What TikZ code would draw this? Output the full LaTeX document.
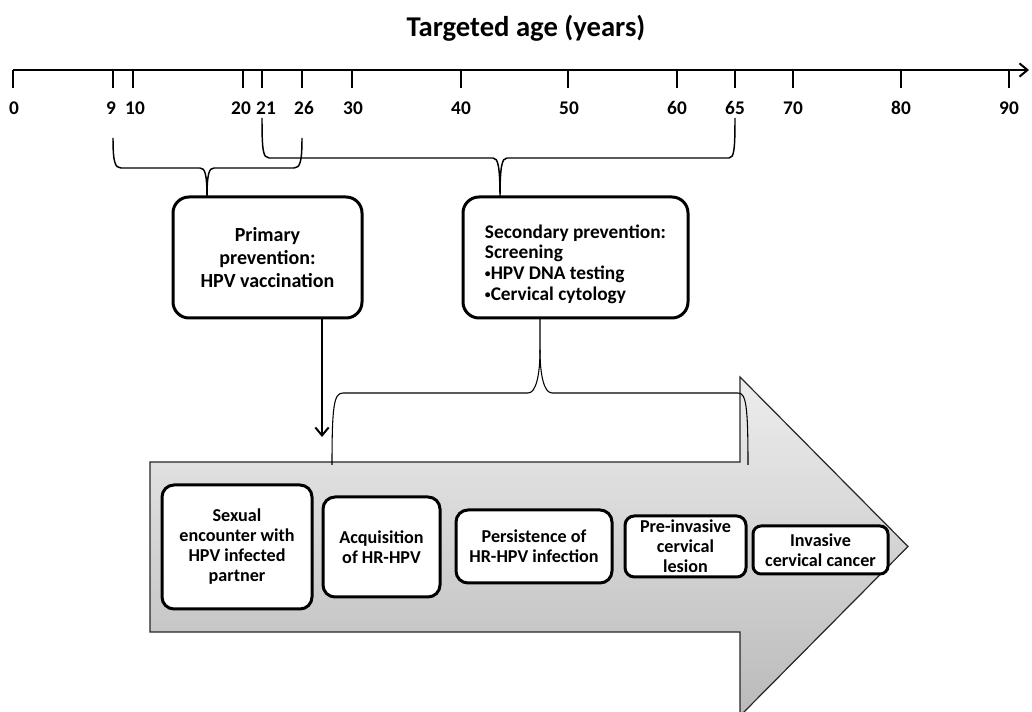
\documentclass[tikz,border=0pt]{standalone}
\usepackage{fontspec}
\setmainfont{Carlito}
\usetikzlibrary{arrows,arrows.meta}

\tikzset{
  prevbox/.style={draw, line width=2.25pt, rounded corners=12pt, fill=white, inner sep=0pt, minimum height=90.75pt, font=\bfseries\fontsize{15}{17}\selectfont},
  stage/.style={draw, line width=2.25pt, rounded corners=9pt, fill=white, align=center, inner sep=0pt, font=\bfseries\fontsize{13.6}{15}\selectfont},
  agelabel/.style={inner sep=0pt, font=\bfseries\fontsize{14.5}{16}\selectfont},
  bracket/.style={line width=1.1pt},
  chevron/.style={-{Straight Barb[length=6pt,width=10pt]}}
}
\newcommand{\smallbullet}{\raisebox{.2ex}{\scalebox{.6}{\textbullet}}}

\begin{document}
\begin{tikzpicture}[x=0.75pt,y=0.75pt,yscale=-1,xscale=1]
\useasboundingbox (0,0) rectangle (1032,712);

% Title
\node[anchor=base, inner sep=0pt, font=\bfseries\fontsize{21.5}{24}\selectfont] (title) at (526,37) {Targeted age (years)};

% Age axis
\draw[line width=1.5pt, chevron] (13,70) -- (1029,70);
\foreach \a/\x/\lx in {0/13/14, 9/113/111, 10/133/135, 20/243/241, 21/262/266, 26/302/304, 30/352/353, 40/461/461, 50/568/569, 60/677/677, 65/735/735, 70/793/793, 80/901/901, 90/1009/1009}{
  \draw[line width=1.1pt] (\x,70) -- ++(0,18);
  \node[agelabel] (age\a) at (\lx,108) {\a};
}

% Big arrow (natural history)
\draw[line width=0.9pt, draw=black!85, top color=black!7, bottom color=black!27]
  (150,462) -- (740,462) -- (740,377) -- (908,546.5) -- (740,716) -- (740,632) -- (150,632) -- cycle;

% Prevention boxes
\node[prevbox, minimum width=141.75pt, align=center] (prim) at (267.5,257.5) {Primary\\prevention:\\HPV vaccination};
\node[prevbox, minimum width=168.75pt, align=flush left, font=\bfseries\fontsize{14.5}{15.5}\selectfont] (sec) at (575.5,257.5) {\rule{0pt}{20pt}Secondary prevention:\\Screening\\\smallbullet HPV DNA testing\\\smallbullet Cervical cytology};

%Shape: Brace, ages 9-26
\draw[bracket] (113,138) .. controls (113,162) and (115,168) .. (121,168) -- (200,168) .. controls (205,168) and (207,174) .. (207,198) .. controls (207,174) and (209,168) .. (214,168) -- (294,168) .. controls (300,168) and (302,162) .. (302,138);
%Shape: Brace, ages 21-65
\draw[bracket] (262,118) .. controls (262,150) and (263,158) .. (269,158) -- (493,158) .. controls (498,158) and (500,166) .. (500,198) .. controls (500,166) and (502,158) .. (507,158) -- (729,158) .. controls (734,158) and (735,150) .. (735,118);
%Shape: Brace, screening targets
\draw[line width=0.8pt] (332,465) .. controls (332,405) and (334,393) .. (343,393) -- (528,393) .. controls (536,393) and (540,375) .. (540,350) -- (540,318);
\draw[line width=0.8pt] (540,350) .. controls (540,375) and (544,393) .. (552,393) -- (738,393) .. controls (746,393) and (748,405) .. (748,465);

% Vaccination arrow
\coordinate (vacc) at (322,437);
\draw[line width=1.5pt, chevron] (prim.south -| vacc) -- (vacc);

% Stages
\node[stage, minimum width=112.5pt, minimum height=93pt] (sexual) at (237,547) {Sexual\\encounter with\\HPV infected\\partner};
\node[stage, minimum width=87.75pt, minimum height=75pt] (acq) at (381.5,547) {Acquisition\\of HR-HPV};
\node[stage, minimum width=117pt, minimum height=54.75pt] (pers) at (534,546.5) {Persistence of\\HR-HPV infection};
\node[stage, minimum width=90.75pt, minimum height=45.75pt, rounded corners=7pt] (lesion) at (685.5,546.5) {Pre-invasive\\cervical\\lesion};
\node[stage, minimum width=101.25pt, minimum height=36pt, rounded corners=6pt] (cancer) at (820.5,550) {Invasive\\cervical cancer};

\end{tikzpicture}
\end{document}
